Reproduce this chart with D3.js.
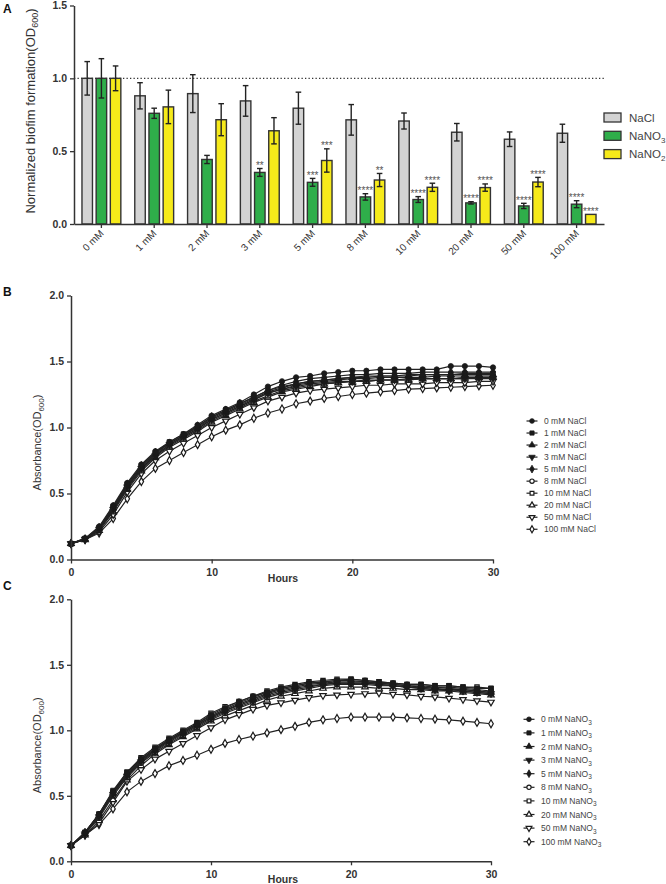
<!DOCTYPE html>
<html>
<head>
<meta charset="utf-8">
<script src="https://cdn.jsdelivr.net/npm/d3@7"></script>
<style>
  body { margin: 0; background: #fff; }
  svg { display: block; font-family: "Liberation Sans", Arial, sans-serif; }
</style>
</head>
<body>
<svg id="fig" width="666" height="884"></svg>
<script>
// ---- panel A : biofilm bars ----
const concs = ["0 mM", "1 mM", "2 mM", "3 mM", "5 mM", "8 mM", "10 mM", "20 mM", "50 mM", "100 mM"];
const salts = ["NaCl", "NaNO3", "NaNO2"];
const naclMean = [1.00, 0.88, 0.895, 0.845, 0.795, 0.715, 0.707, 0.63, 0.582, 0.623];
const naclErr  = [0.115, 0.09, 0.13, 0.105, 0.11, 0.105, 0.055, 0.06, 0.05, 0.062];
const no3Mean  = [1.00, 0.76, 0.443, 0.354, 0.286, 0.186, 0.168, 0.145, 0.124, 0.136];
const no3Err   = [0.135, 0.035, 0.028, 0.027, 0.027, 0.022, 0.02, 0.008, 0.018, 0.024];
const no2Mean  = [1.00, 0.804, 0.716, 0.64, 0.436, 0.302, 0.252, 0.25, 0.288, 0.066];
const no2Err   = [0.085, 0.115, 0.11, 0.09, 0.08, 0.045, 0.028, 0.025, 0.032, 0];
const no3Sig   = ["", "", "", "**", "***", "****", "****", "****", "****", "****"];
const no2Sig   = ["", "", "", "", "***", "**", "****", "****", "****", "****"];
const barColors = ["#d3d3d3", "#2fae4a", "#f6ea1a"];

// ---- panels B and C : growth curves ----
const hours = [0,1,2,3,4,5,6,7,8,9,10,11,12,13,14,15,16,17,18,19,20,21,22,23,24,25,26,27,28,29,30];
const levels = ["0 mM", "1 mM", "2 mM", "3 mM", "5 mM", "8 mM", "10 mM", "20 mM", "50 mM", "100 mM"];

const naclCurves = [
  [0.12,0.16,0.25,0.41,0.58,0.72,0.82,0.89,0.95,1.02,1.09,1.14,1.19,1.25,1.31,1.35,1.38,1.39,1.41,1.42,1.43,1.43,1.44,1.44,1.44,1.44,1.44,1.465,1.465,1.465,1.455],
  [0.12,0.16,0.24,0.40,0.57,0.71,0.81,0.89,0.95,1.01,1.08,1.13,1.18,1.23,1.28,1.31,1.33,1.35,1.36,1.37,1.38,1.39,1.39,1.39,1.40,1.40,1.40,1.40,1.41,1.41,1.41],
  [0.12,0.155,0.24,0.39,0.56,0.70,0.80,0.88,0.94,1.00,1.07,1.12,1.17,1.22,1.27,1.30,1.33,1.35,1.36,1.37,1.38,1.38,1.39,1.39,1.39,1.40,1.40,1.40,1.40,1.40,1.40],
  [0.12,0.155,0.23,0.38,0.55,0.69,0.79,0.87,0.93,0.99,1.06,1.11,1.16,1.21,1.26,1.29,1.31,1.33,1.34,1.35,1.35,1.36,1.36,1.36,1.37,1.37,1.37,1.37,1.37,1.37,1.37],
  [0.12,0.155,0.24,0.40,0.57,0.71,0.81,0.88,0.94,1.01,1.08,1.13,1.18,1.23,1.28,1.32,1.35,1.37,1.38,1.39,1.40,1.40,1.41,1.41,1.41,1.42,1.42,1.42,1.42,1.42,1.42],
  [0.12,0.155,0.23,0.38,0.55,0.69,0.79,0.87,0.93,0.99,1.06,1.11,1.16,1.21,1.26,1.29,1.32,1.34,1.35,1.36,1.37,1.37,1.38,1.38,1.38,1.38,1.39,1.39,1.39,1.39,1.39],
  [0.12,0.155,0.23,0.37,0.54,0.68,0.78,0.86,0.92,0.98,1.05,1.10,1.15,1.20,1.24,1.28,1.30,1.32,1.33,1.34,1.35,1.35,1.36,1.36,1.36,1.37,1.37,1.37,1.37,1.38,1.38],
  [0.12,0.15,0.22,0.36,0.53,0.67,0.77,0.85,0.91,0.97,1.04,1.09,1.14,1.19,1.23,1.27,1.29,1.31,1.33,1.34,1.35,1.35,1.36,1.36,1.36,1.37,1.37,1.37,1.38,1.38,1.38],
  [0.12,0.15,0.21,0.34,0.51,0.65,0.75,0.82,0.88,0.94,1.00,1.05,1.10,1.15,1.20,1.23,1.26,1.28,1.29,1.30,1.31,1.32,1.32,1.33,1.33,1.33,1.34,1.34,1.34,1.35,1.35],
  [0.12,0.15,0.20,0.31,0.46,0.59,0.69,0.75,0.81,0.87,0.93,0.98,1.02,1.07,1.11,1.14,1.18,1.20,1.22,1.235,1.25,1.26,1.27,1.28,1.29,1.295,1.30,1.305,1.31,1.315,1.32]
];

const no3Curves = [
  [0.12,0.22,0.36,0.53,0.67,0.78,0.86,0.93,0.99,1.05,1.12,1.17,1.22,1.26,1.29,1.32,1.34,1.36,1.37,1.38,1.38,1.37,1.36,1.35,1.34,1.34,1.33,1.33,1.32,1.31,1.30],
  [0.12,0.22,0.36,0.54,0.68,0.78,0.86,0.93,0.99,1.05,1.11,1.16,1.21,1.25,1.29,1.32,1.34,1.36,1.37,1.38,1.39,1.38,1.37,1.36,1.35,1.35,1.34,1.34,1.33,1.32,1.32],
  [0.12,0.21,0.35,0.52,0.66,0.77,0.85,0.92,0.98,1.04,1.10,1.15,1.20,1.24,1.28,1.31,1.33,1.35,1.36,1.37,1.37,1.37,1.36,1.35,1.34,1.33,1.33,1.32,1.31,1.30,1.29],
  [0.12,0.21,0.34,0.51,0.65,0.76,0.84,0.91,0.97,1.03,1.09,1.14,1.18,1.22,1.26,1.29,1.31,1.33,1.35,1.36,1.36,1.36,1.35,1.34,1.33,1.32,1.31,1.30,1.30,1.29,1.28],
  [0.12,0.22,0.35,0.52,0.66,0.77,0.85,0.92,0.98,1.04,1.10,1.15,1.19,1.23,1.27,1.30,1.32,1.34,1.35,1.36,1.36,1.36,1.35,1.34,1.33,1.33,1.32,1.31,1.31,1.30,1.29],
  [0.12,0.21,0.33,0.50,0.64,0.75,0.83,0.90,0.96,1.02,1.08,1.13,1.17,1.21,1.25,1.28,1.30,1.32,1.34,1.35,1.35,1.35,1.34,1.34,1.33,1.32,1.31,1.31,1.30,1.29,1.28],
  [0.12,0.22,0.36,0.53,0.68,0.79,0.87,0.94,1.00,1.06,1.13,1.18,1.22,1.26,1.30,1.33,1.35,1.37,1.38,1.39,1.39,1.38,1.37,1.36,1.35,1.35,1.34,1.34,1.33,1.33,1.32],
  [0.12,0.20,0.31,0.47,0.62,0.73,0.82,0.89,0.95,1.01,1.07,1.11,1.15,1.19,1.23,1.26,1.28,1.30,1.32,1.33,1.33,1.33,1.32,1.32,1.31,1.31,1.30,1.30,1.29,1.28,1.27],
  [0.12,0.20,0.29,0.45,0.61,0.70,0.78,0.84,0.90,0.96,1.02,1.08,1.12,1.16,1.19,1.21,1.23,1.25,1.265,1.27,1.275,1.28,1.285,1.275,1.27,1.26,1.255,1.245,1.235,1.225,1.215],
  [0.12,0.20,0.28,0.40,0.53,0.61,0.67,0.73,0.77,0.81,0.855,0.90,0.93,0.955,0.98,1.005,1.03,1.06,1.08,1.09,1.10,1.10,1.10,1.10,1.095,1.09,1.085,1.08,1.07,1.06,1.05]
];

const axisColor = "#333";
const svg = d3.select("#fig");

// text with a subscript part, e.g. NaNO + 3
function subText(sel, main, sub, tail, subSize, shift) {
  sel.append("tspan").text(main);
  if (sub) sel.append("tspan").attr("font-size", subSize).attr("dy", shift).text(sub);
  if (tail) sel.append("tspan").attr("dy", -shift).text(tail);
}

function styleAxis(g) {
  g.select(".domain").attr("stroke", axisColor).attr("stroke-width", 1.5);
  g.selectAll(".tick line").attr("stroke", axisColor).attr("stroke-width", 1.3);
  g.selectAll(".tick text").attr("fill", "#333").attr("font-weight", "bold")
    .attr("font-size", 10.5).attr("font-family", "Liberation Sans, Arial, sans-serif");
}

function panelLetter(t, x, y) {
  svg.append("text").attr("x", x).attr("y", y).attr("font-size", 12)
    .attr("font-weight", "bold").attr("fill", "#111").text(t);
}

// ================= panel A =================
panelLetter("A", 3, 13);
const yA = d3.scaleLinear().domain([0, 1.5]).range([224, 5.5]);
const xA = d3.scaleBand().domain(concs).range([74, 604]).paddingInner(0.264).paddingOuter(0.151);
const xSub = d3.scaleBand().domain(salts).range([0, xA.bandwidth()]).paddingInner(0.26);

const gA = svg.append("g");
const means = [naclMean, no3Mean, no2Mean];
const errs = [naclErr, no3Err, no2Err];

// dotted reference line at 1.0
gA.append("line").attr("x1", 74).attr("x2", 604).attr("y1", yA(1)).attr("y2", yA(1))
  .attr("stroke", "#333").attr("stroke-width", 1.3).attr("stroke-dasharray", "1.3,2.2");

salts.forEach((s, k) => {
  const rows = concs.map((c, i) => ({ c, v: means[k][i], e: errs[k][i], i }));
  gA.selectAll(null).data(rows).enter().append("rect")
    .attr("x", d => xA(d.c) + xSub(s))
    .attr("y", d => yA(d.v))
    .attr("width", xSub.bandwidth())
    .attr("height", d => yA(0) - yA(d.v))
    .attr("fill", barColors[k]).attr("stroke", "#333").attr("stroke-width", 1.4);
  const eb = rows.filter(d => d.e > 0);
  const cx = d => xA(d.c) + xSub(s) + xSub.bandwidth() / 2;
  gA.selectAll(null).data(eb).enter().append("line")
    .attr("x1", cx).attr("x2", cx)
    .attr("y1", d => yA(d.v - d.e)).attr("y2", d => yA(d.v + d.e))
    .attr("stroke", "#222").attr("stroke-width", 1.4);
  [1, -1].forEach(sg => {
    gA.selectAll(null).data(eb).enter().append("line")
      .attr("x1", d => cx(d) - 2.8).attr("x2", d => cx(d) + 2.8)
      .attr("y1", d => yA(d.v + sg * d.e)).attr("y2", d => yA(d.v + sg * d.e))
      .attr("stroke", "#222").attr("stroke-width", 1.4);
  });
});

// significance stars
[[no3Sig, "NaNO3", 1], [no2Sig, "NaNO2", 2]].forEach(([sig, s, k]) => {
  gA.selectAll(null).data(concs.map((c, i) => ({ c, t: sig[i], top: means[k][i] + errs[k][i] })))
    .enter().filter(d => d.t).append("text")
    .attr("x", d => xA(d.c) + xSub(s) + xSub.bandwidth() / 2)
    .attr("y", d => yA(d.top) + 0.5)
    .attr("text-anchor", "middle").attr("font-size", 10).attr("fill", "#555")
    .text(d => d.t);
});

const axA_y = gA.append("g").attr("transform", "translate(74,0)")
  .call(d3.axisLeft(yA).tickValues([0, 0.5, 1, 1.5]).tickFormat(d3.format(".1f")).tickSize(4).tickSizeOuter(0));
styleAxis(axA_y);
const axA_x = gA.append("g").attr("transform", `translate(0,${yA(0)})`)
  .call(d3.axisBottom(xA).tickSize(4).tickSizeOuter(0).tickFormat(""));
styleAxis(axA_x);

// rotated category labels
gA.selectAll(null).data(concs).enter().append("text")
  .attr("transform", d => `translate(${xA(d) + xA.bandwidth() / 2 + 3},${yA(0) + 10}) rotate(-45)`)
  .attr("text-anchor", "end").attr("font-size", 10).attr("fill", "#333")
  .text(d => d);

gA.append("text").attr("transform", "translate(35,111) rotate(-90)")
  .attr("text-anchor", "middle").attr("font-size", 13).attr("fill", "#333")
  .call(t => subText(t, "Normalized biofim formation(OD", "600", ")", 9, 3));

// legend A
const legA = gA.append("g");
salts.forEach((s, k) => {
  const y = 117.5 + k * 18.3;
  legA.append("rect").attr("x", 604).attr("y", y - 4.5).attr("width", 17).attr("height", 9)
    .attr("fill", barColors[k]).attr("stroke", "#333").attr("stroke-width", 1.3);
  const t = legA.append("text").attr("x", 629).attr("y", y + 4.2).attr("font-size", 11.5).attr("fill", "#444");
  if (k === 0) t.text("NaCl");
  else subText(t, "NaNO", k === 1 ? "3" : "2", null, 8, 3);
});

// ================= curve panels =================
const shapes = [
  { t: d3.symbolCircle, open: false, r: 0 },
  { t: d3.symbolSquare, open: false, r: 0 },
  { t: d3.symbolTriangle, open: false, r: 0 },
  { t: d3.symbolTriangle, open: false, r: 180 },
  { t: d3.symbolDiamond, open: false, r: 0 },
  { t: d3.symbolCircle, open: true, r: 0 },
  { t: d3.symbolSquare, open: true, r: 0 },
  { t: d3.symbolTriangle, open: true, r: 0 },
  { t: d3.symbolTriangle, open: true, r: 180 },
  { t: d3.symbolDiamond, open: true, r: 0 }
];

function marker(g, k, x, y, scale) {
  const sh = shapes[k];
  const sz = (sh.open ? 18 : 22) * (scale || 1);
  g.append("path").attr("d", d3.symbol(sh.t, sz)())
    .attr("transform", `translate(${x},${y}) rotate(${sh.r})`)
    .attr("fill", sh.open ? "#fff" : "#1a1a1a")
    .attr("stroke", "#1a1a1a").attr("stroke-width", sh.open ? 1.2 : 0.8);
}

function curvePanel(opt) {
  const x = d3.scaleLinear().domain([0, 30]).range([71, opt.xEnd]);
  const y = d3.scaleLinear().domain([0, 2]).range([opt.y0, opt.y2]);
  const g = svg.append("g");
  panelLetter(opt.letter, 3, opt.letterY);

  const line = d3.line().x((d, i) => x(hours[i])).y(d => y(d));
  for (let k = opt.curves.length - 1; k >= 0; k--) {
    const vals = opt.curves[k];
    g.append("path").attr("d", line(vals)).attr("fill", "none")
      .attr("stroke", "#222").attr("stroke-width", 1.2);
    vals.forEach((v, i) => marker(g, k, x(hours[i]), y(v)));
  }

  const ay = g.append("g").attr("transform", "translate(71,0)")
    .call(d3.axisLeft(y).tickValues([0, 0.5, 1, 1.5, 2]).tickFormat(d3.format(".1f")).tickSize(4).tickSizeOuter(0));
  styleAxis(ay);
  const ax = g.append("g").attr("transform", `translate(0,${opt.y0})`)
    .call(d3.axisBottom(x).tickValues([0, 10, 20, 30]).tickSize(4).tickSizeOuter(0));
  styleAxis(ax);
  ax.selectAll(".tick text").attr("dy", "0.9em");

  g.append("text").attr("x", 283).attr("y", opt.y0 + 22).attr("text-anchor", "middle")
    .attr("font-size", 10.5).attr("font-weight", "bold").attr("fill", "#333").text("Hours");
  g.append("text").attr("transform", `translate(41,${(opt.y0 + opt.y2) / 2 + 15}) rotate(-90)`)
    .attr("text-anchor", "middle").attr("font-size", 11).attr("fill", "#333")
    .call(t => subText(t, "Absorbance(OD", "600", ")", 8, 3));

  // legend
  levels.forEach((lv, k) => {
    const ly = opt.legY + k * opt.legStep;
    g.append("line").attr("x1", opt.legX - 5.5).attr("x2", opt.legX + 5.5)
      .attr("y1", ly).attr("y2", ly).attr("stroke", "#222").attr("stroke-width", 1.2);
    marker(g, k, opt.legX, ly, 0.8);
    const t = g.append("text").attr("x", opt.legX + 12).attr("y", ly + 3)
      .attr("font-size", 8.5).attr("fill", "#444");
    if (opt.salt === "NaCl") t.text(`${lv} NaCl`);
    else subText(t, `${lv} NaNO`, "3", null, 6.5, 2.5);
  });
}

curvePanel({ letter: "B", letterY: 296, curves: naclCurves, y0: 559.5, y2: 295.5, xEnd: 493,
  legX: 532, legY: 421, legStep: 12.03, salt: "NaCl" });
curvePanel({ letter: "C", letterY: 590, curves: no3Curves, y0: 861.3, y2: 599.3, xEnd: 491,
  legX: 529, legY: 719.3, legStep: 13.6, salt: "NaNO3" });
</script>
</body>
</html>
